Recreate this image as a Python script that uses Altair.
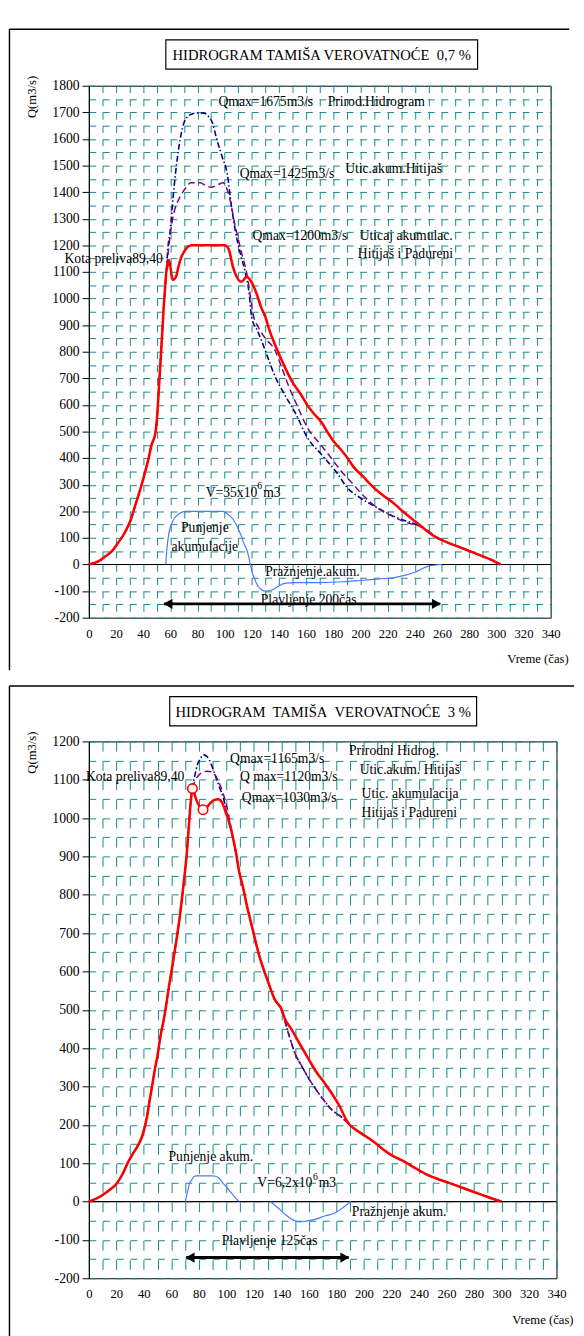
import altair as alt
import pandas as pd

FONT = "Liberation Serif"
TEAL = "#108888"
RED = "#ff0000"
NAVY = "#000080"
PURPLE = "#800080"
LBLUE = "#4a78ff"
INK = "#000000"

# ===================== Panel 1 : VEROVATNOĆA 0,7 % =====================
p1_title = "HIDROGRAM TAMIŠA VEROVATNOĆE\u00a0 0,7 %"
p1_ymin, p1_ymax = -200, 1800

p1_rise_t = [0, 7, 12, 17, 22, 27, 31, 34, 38, 41, 44, 46, 49, 50, 52, 54, 55, 56, 57]
p1_rise_q = [0, 12, 30, 50, 85, 125, 170, 220, 285, 340, 400, 447, 495, 540, 700, 870, 960, 1030, 1100]

p1_red_t = [58, 59, 60, 61, 62, 64, 66, 68, 70, 73, 76, 100, 103, 106, 109, 112, 114, 116, 118, 121,
            124, 127, 130, 133, 138, 144, 150, 156, 161, 166, 171, 176, 180, 185, 190, 195, 202, 209,
            216, 224, 231, 238, 246, 255]
p1_red_q = [1125, 1145, 1120, 1085, 1070, 1080, 1120, 1155, 1175, 1195, 1200, 1200, 1185, 1120, 1080,
            1063, 1070, 1083, 1075, 1050, 1010, 965, 930, 880, 815, 745, 685, 640, 598, 565, 537, 495,
            464, 435, 403, 366, 330, 293, 262, 232, 200, 171, 138, 104]

p1_nat_t = [58, 60, 62, 64, 66, 68, 70, 72, 75, 80, 85, 88, 91, 94, 98, 102, 105, 109, 112, 115, 118,
            120, 124, 128, 132, 137, 144, 152, 161, 171, 183, 190, 200, 210, 225, 245, 255]
p1_nat_q = [1180, 1260, 1380, 1480, 1560, 1620, 1660, 1680, 1692, 1698, 1697, 1685, 1660, 1602, 1535,
            1465, 1346, 1224, 1160, 1102, 1020, 925, 880, 830, 775, 708, 640, 570, 476, 415, 342, 290,
            250, 220, 180, 140, 106]

p1_hit_t = [59, 61, 63, 65, 68, 72, 75, 82, 86, 90, 95, 99, 101, 103, 105, 107, 110, 113, 116, 118,
            121, 125, 130, 137, 142, 147, 154, 161, 170, 178, 186, 194, 200, 207, 214, 224, 233, 248, 255]
p1_hit_q = [1200, 1280, 1330, 1360, 1390, 1420, 1435, 1435, 1425, 1418, 1428, 1435, 1420, 1390, 1346,
            1290, 1224, 1160, 1102, 1040, 940, 890, 850, 806, 740, 672, 590, 513, 455, 403, 350, 305,
            270, 235, 207, 180, 159, 134, 106]

p1_tail_t = [263, 272, 284, 296, 303]
p1_tail_q = [85, 67, 43, 18, 0]

p1_acc_t = [56.6, 57.5, 59, 62, 66, 71, 98.7, 102, 106, 109, 112, 114.5, 116.7, 118.5, 120.3, 122.5,
            125, 130, 134, 137, 140, 145, 151.6, 170, 187.7, 200, 212, 224, 233, 240.6, 250, 260]
p1_acc_q = [0, 60, 120, 165, 190, 200, 200, 190, 171, 145, 110, 75, 49, 10, -31, -60, -85, -100, -97,
            -90, -80, -70, -68, -68, -65, -60, -55, -50, -40, -28, -6, 0]

p1_lab_t = [95.4, 175.8, 111, 188.7, 120.5, 199.4, 198, 54.5, 85.4, 85.4, 129.8, 161.8]
p1_lab_q = [1738, 1740, 1467, 1485, 1236, 1236, 1166, 1150, 136, 66, -28, -134]
p1_lab_text = ["Qmax=1675m3/s", "Prirod.Hidrogram", "Qmax=1425m3/s", "Utic.akum.Hitijaš",
               "Qmax=1200m3/s", "Uticaj akumulac.", "Hitijaš i Padureni", "Kota preliva89,40",
               "Punjenje", "akumulacije", "Pražnjenje.akum.", "Plavljenje 200čas"]
p1_lab_align = ["left", "left", "left", "left", "left", "left", "left", "right",
                "center", "center", "left", "center"]
p1_vol_t, p1_vol_q, p1_vol_text = [86], [268], ["V=35x10"]
p1_arrow_t, p1_arrow_t2, p1_arrow_q = [55.4], [258.7], [-148]

# ===================== Panel 2 : VEROVATNOĆA 3 % =====================
p2_title = "HIDROGRAM\u00a0 TAMIŠA\u00a0 VEROVATNOĆE\u00a0 3 %"
p2_ymin, p2_ymax = -200, 1200

p2_rise_t = [0, 5, 10, 15, 20, 25, 28, 32, 35, 38.8, 42.3, 44, 45.9, 48, 50, 52, 55, 58, 61, 64, 66,
             68, 69.4, 71, 73, 74, 75.3]
p2_rise_q = [0, 7, 17, 30, 46, 75, 99, 125, 142, 171, 222, 260, 300, 345, 383, 430, 485, 555, 621, 690,
             740, 800, 845, 900, 994, 1040, 1077]

p2_red_peak_t = [77, 79, 81, 83, 85, 88, 91, 94, 97, 100, 102.3]
p2_red_peak_q = [1060, 1040, 1028, 1022, 1025, 1038, 1047, 1049, 1040, 1010, 986]
p2_nat_peak_t = [77, 79, 81, 83.5, 86, 89, 92, 95, 98, 101]
p2_nat_peak_q = [1110, 1140, 1155, 1165, 1160, 1140, 1110, 1080, 1050, 1000]
p2_hit_peak_t = [77, 79, 82, 86, 90, 93, 95.3, 98, 100, 102.3]
p2_hit_peak_q = [1095, 1108, 1118, 1122, 1120, 1105, 1087, 1060, 1036, 995]

p2_fall_t = [105, 107, 109.4, 111.8, 115, 118.8, 123.5, 130.6, 135]
p2_fall_q = [945, 909, 858, 824, 770, 714, 646, 570, 528]

p2_red_rec_t = [140, 142.5, 147, 154, 160, 165, 170.6, 175.3, 182.4, 187, 189.4]
p2_red_rec_q = [502, 477, 451, 407, 370, 340, 313, 289, 248, 214, 201]
p2_dash_rec_t = [140, 145, 150, 155, 160, 165, 170, 177, 183, 189.4]
p2_dash_rec_q = [500, 440, 385, 352, 320, 293, 268, 238, 222, 201]

p2_tail_t = [193, 198.8, 205.9, 210.6, 215, 220, 229.4, 237, 245.9, 255, 262.3, 270, 280, 290, 300]
p2_tail_q = [190, 176, 159, 146, 133, 121, 104, 88, 70, 57, 48, 38, 25, 12, 0]

p2_fill_t = [70.1, 71, 71.8, 73, 75, 76.5, 78, 90, 94, 97, 100, 103, 106, 109.2]
p2_fill_q = [0, 15, 27, 45, 58, 65, 67, 67, 63, 50, 38, 25, 12, 0]
p2_drain_t = [131.8, 137, 142.3, 147, 152.9, 158, 165.8, 172, 178.8, 185, 190.6]
p2_drain_q = [0, -15, -32, -45, -53, -51, -45, -37, -30, -15, 0]

p2_circ_t = [75.3, 83]
p2_circ_q = [1077, 1022]

p2_lab_t = [102.7, 109.8, 111.2, 189.1, 196.9, 198.3, 198.3, 69.4, 57.9, 191.2, 131.4]
p2_lab_q = [1154, 1106, 1053, 1175, 1124, 1063, 1012, 1106, 115, -27, -104]
p2_lab_text = ["Qmax=1165m3/s", "Q max=1120m3/s", "Qmax=1030m3/s", "Prirodni Hidrog.",
               "Utic.akum. Hitijaš", "Utic. akumulacija", "Hitijaš i Padureni", "Kota preliva89,40",
               "Punjenje akum.", "Pražnjenje akum.", "Plavljenje 125čas"]
p2_lab_align = ["left", "left", "left", "left", "left", "left", "left", "right", "left", "left", "center"]
p2_vol_t, p2_vol_q, p2_vol_text = [122.5], [47], ["V=6,2x10"]
p2_arrow_t, p2_arrow_t2, p2_arrow_q = [70.8], [188.9], [-146]


def df_line(t, q):
    return pd.DataFrame({"t": t, "q": q})


ONE = pd.DataFrame({"k": [0]})


def build_panel(W, H, ymin, ymax, red, nat, hit, acc, circ, labels, vol, arrow, title,
                frame_top, frame_bottom, box, title_right, gdash_x, gdash_y, vol_dx):
    xs = alt.Scale(domain=[0, 340], nice=False, zero=False)
    ys = alt.Scale(domain=[ymin, ymax], nice=False, zero=False)
    x_axis = alt.Axis(
        values=list(range(0, 341, 10)),
        labelExpr="datum.value % 20 === 0 ? '' + datum.value : ''",
        labelFont=FONT, labelFontSize=13, labelColor=INK, labelPadding=10,
        labelOverlap=False, labelFlush=False,
        ticks=False, tickSize=0, domain=False,
        grid=True, gridColor=TEAL, gridDash=gdash_x, gridWidth=1,
        title="Vreme (čas)", titleFont=FONT, titleFontSize=13, titleFontWeight="normal",
        titleColor=INK, titleX=title_right, titleY=42, titleAlign="right",
        titleBaseline="middle", titleAnchor="end")
    y_axis = alt.Axis(
        values=list(range(ymin, ymax + 1, 50)),
        labelExpr="datum.value % 100 === 0 ? '' + datum.value : ''",
        labelFont=FONT, labelFontSize=14, labelColor=INK, labelPadding=3,
        labelOverlap=False, labelFlush=False,
        ticks=True, tickSize=7, tickColor="black", tickWidth=1,
        tickOpacity={"condition": {"test": "datum.value % 100 === 0", "value": 1}, "value": 0},
        domain=True, domainColor="black", domainWidth=1,
        grid=True, gridColor=TEAL, gridDash=gdash_y, gridWidth=1,
        title="Q(m3/s)", titleFont=FONT, titleFontSize=13, titleFontWeight="normal",
        titleColor=INK, titleAngle=270, titleX=-59, titleY=11, titleAlign="center",
        titleBaseline="middle")

    def X(f="t"):
        return alt.X(f"{f}:Q", scale=xs, axis=x_axis)

    def Y(f="q"):
        return alt.Y(f"{f}:Q", scale=ys, axis=y_axis)

    layers = []
    left = -81.5
    layers.append(alt.Chart(ONE).mark_rule(color="black", strokeWidth=1.5).encode(
        x=alt.value(left), y=alt.value(frame_top), y2=alt.value(frame_bottom)))
    layers.append(alt.Chart(ONE).mark_rule(color="black", strokeWidth=1.5).encode(
        x=alt.value(left), x2=alt.value(title_right + 1), y=alt.value(frame_top)))
    if frame_bottom < H + 50:
        layers.append(alt.Chart(ONE).mark_rule(color="black", strokeWidth=1.5).encode(
            x=alt.value(left), x2=alt.value(title_right + 1), y=alt.value(frame_bottom)))
    bx1, bx2, by1, by2 = box
    layers.append(alt.Chart(ONE).mark_rect(fill="white", stroke="black", strokeWidth=1.2).encode(
        x=alt.value(bx1), x2=alt.value(bx2), y=alt.value(by1), y2=alt.value(by2)))
    layers.append(alt.Chart(pd.DataFrame({"txt": [title]})).mark_text(
        font=FONT, fontSize=15, color=INK, align="center", baseline="middle").encode(
        x=alt.value((bx1 + bx2) / 2), y=alt.value((by1 + by2) / 2 + 1), text="txt:N"))
    layers.append(alt.Chart(pd.DataFrame({"q": [0]})).mark_rule(color="black", strokeWidth=1.2).encode(
        y=Y()))
    layers.append(alt.Chart(acc).mark_line(color=LBLUE, strokeWidth=1.2, interpolate="monotone").encode(
        x=X(), y=Y(), detail="seg:N", order="i:Q"))
    layers.append(alt.Chart(nat).mark_line(color=NAVY, strokeWidth=1.6, strokeDash=[6, 2.5, 1.5, 2.5],
                                           interpolate="monotone").encode(x=X(), y=Y(), order="i:Q"))
    layers.append(alt.Chart(hit).mark_line(color=PURPLE, strokeWidth=1.5, strokeDash=[7, 4],
                                           interpolate="monotone").encode(x=X(), y=Y(), order="i:Q"))
    layers.append(alt.Chart(red).mark_line(color=RED, strokeWidth=2.6, interpolate="monotone").encode(
        x=X(), y=Y(), order="i:Q"))
    if circ is not None:
        layers.append(alt.Chart(circ).mark_point(shape="circle", filled=True, fill="white", stroke=RED,
                                                 strokeWidth=1.6, size=95, opacity=1).encode(x=X(), y=Y()))
    layers.append(alt.Chart(arrow).mark_rule(color="black", strokeWidth=3).encode(
        x=X(), x2="t2:Q", y=Y()))
    layers.append(alt.Chart(arrow).mark_point(shape="triangle-left", filled=True, color="black",
                                              size=110, opacity=1, xOffset=4).encode(x=X(), y=Y()))
    layers.append(alt.Chart(arrow).mark_point(shape="triangle-right", filled=True, color="black",
                                              size=110, opacity=1, xOffset=-4).encode(x=X("t2"), y=Y()))
    for al in ["left", "center", "right"]:
        sub = labels[labels["align"] == al]
        if len(sub):
            layers.append(alt.Chart(sub).mark_text(font=FONT, fontSize=14, color=INK, align=al,
                                                   baseline="middle").encode(x=X(), y=Y(), text="label:N"))
    layers.append(alt.Chart(vol).mark_text(font=FONT, fontSize=14, color=INK, align="left",
                                           baseline="middle").encode(x=X(), y=Y(), text="label:N"))
    layers.append(alt.Chart(vol).mark_text(font=FONT, fontSize=10, color=INK, align="left",
                                           baseline="middle", dx=vol_dx, dy=-7).encode(
        x=X(), y=Y(), text=alt.value("6")))
    layers.append(alt.Chart(vol).mark_text(font=FONT, fontSize=14, color=INK, align="left",
                                           baseline="middle", dx=vol_dx + 6).encode(
        x=X(), y=Y(), text=alt.value("m3")))
    return alt.layer(*layers).properties(width=W, height=H)


def with_index(df):
    df = df.copy()
    df["i"] = range(len(df))
    return df


p1_red = with_index(df_line(p1_rise_t + p1_red_t + p1_tail_t, p1_rise_q + p1_red_q + p1_tail_q))
p1_nat = with_index(df_line(p1_rise_t + p1_nat_t + p1_tail_t, p1_rise_q + p1_nat_q + p1_tail_q))
p1_hit = with_index(df_line(p1_rise_t + p1_hit_t + p1_tail_t, p1_rise_q + p1_hit_q + p1_tail_q))
p1_acc = with_index(pd.DataFrame({"t": p1_acc_t, "q": p1_acc_q, "seg": "a"}))
p1_labels = pd.DataFrame({"t": p1_lab_t, "q": p1_lab_q, "label": p1_lab_text, "align": p1_lab_align})
p1_vol = pd.DataFrame({"t": p1_vol_t, "q": p1_vol_q, "label": p1_vol_text})
p1_arrow = pd.DataFrame({"t": p1_arrow_t, "t2": p1_arrow_t2, "q": p1_arrow_q})

p2_red = with_index(df_line(p2_rise_t + p2_red_peak_t + p2_fall_t + p2_red_rec_t + p2_tail_t,
                            p2_rise_q + p2_red_peak_q + p2_fall_q + p2_red_rec_q + p2_tail_q))
p2_nat = with_index(df_line(p2_rise_t + p2_nat_peak_t + p2_fall_t + p2_dash_rec_t + p2_tail_t,
                            p2_rise_q + p2_nat_peak_q + p2_fall_q + p2_dash_rec_q + p2_tail_q))
p2_hit = with_index(df_line(p2_rise_t + p2_hit_peak_t + p2_fall_t + p2_dash_rec_t + p2_tail_t,
                            p2_rise_q + p2_hit_peak_q + p2_fall_q + p2_dash_rec_q + p2_tail_q))
p2_acc = with_index(pd.concat([
    pd.DataFrame({"t": p2_fill_t, "q": p2_fill_q, "seg": "fill"}),
    pd.DataFrame({"t": p2_drain_t, "q": p2_drain_q, "seg": "drain"})], ignore_index=True))
p2_circ = pd.DataFrame({"t": p2_circ_t, "q": p2_circ_q})
p2_labels = pd.DataFrame({"t": p2_lab_t, "q": p2_lab_q, "label": p2_lab_text, "align": p2_lab_align})
p2_vol = pd.DataFrame({"t": p2_vol_t, "q": p2_vol_q, "label": p2_vol_text})
p2_arrow = pd.DataFrame({"t": p2_arrow_t, "t2": p2_arrow_t2, "q": p2_arrow_q})

W1, H1 = 474, 546
W2, H2 = 480, 551

top = build_panel(W1, H1, p1_ymin, p1_ymax, p1_red, p1_nat, p1_hit, p1_acc, None, p1_labels, p1_vol,
                  p1_arrow, p1_title, frame_top=-58, frame_bottom=H1 + 54, box=(79, 399, -47, -17),
                  title_right=492, gdash_x=[7, 6.65], gdash_y=[7, 6.9], vol_dx=53)
bot = build_panel(W2, H2, p2_ymin, p2_ymax, p2_red, p2_nat, p2_hit, p2_acc, p2_circ, p2_labels, p2_vol,
                  p2_arrow, p2_title, frame_top=-57, frame_bottom=H2 + 60, box=(83, 398, -46, -16),
                  title_right=497, gdash_x=[10, 9.7], gdash_y=[7, 7.1], vol_dx=57)

chart = alt.vconcat(top, bot, spacing=12).properties(
    padding={"left": 0, "top": 2, "right": 0, "bottom": 0},
    background="white",
).configure(font=FONT).configure_axis(
    labelFont=FONT, titleFont=FONT
).configure_text(font=FONT).configure_view(stroke="black", strokeWidth=1)

chart.save("out.html", embed_options={"renderer": "svg", "actions": False})
